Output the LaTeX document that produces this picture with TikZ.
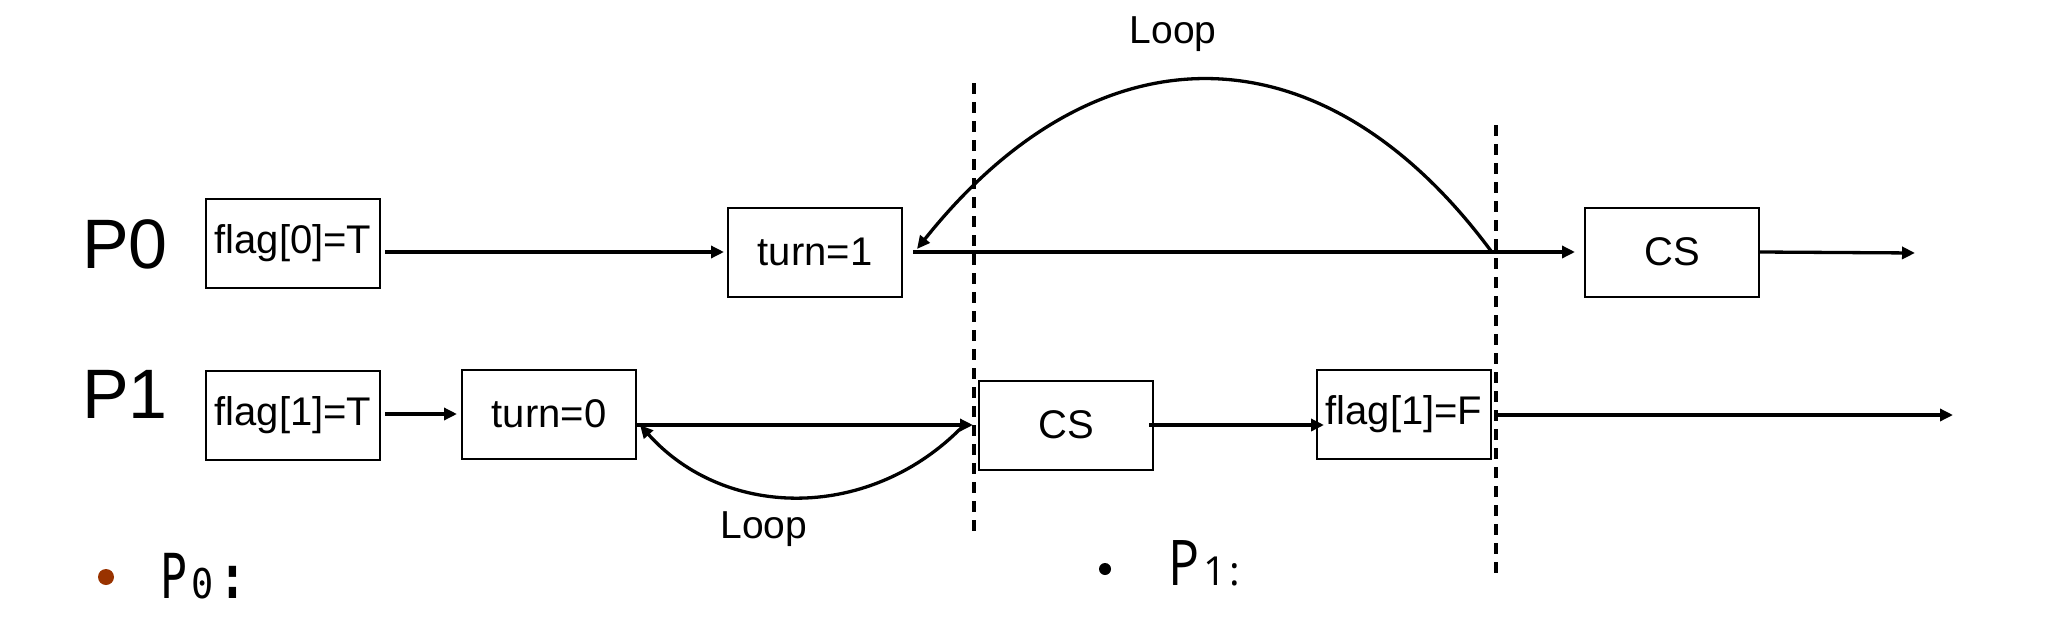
\documentclass[tikz,border=0pt]{standalone}
\usepackage{fontspec}
\setmainfont{Liberation Sans}
\newfontfamily\monoP[FakeStretch=0.72]{DejaVu Sans Mono}
\newfontfamily\monoS[FakeStretch=0.9]{DejaVu Sans Mono}
\newfontfamily\osans[FakeStretch=0.82]{Open Sans}
\newfontfamily\osanssub{Open Sans}
\usetikzlibrary{arrows.meta}
\definecolor{bulletbrown}{RGB}{153,51,0}
\tikzset{
  stepbox/.style={draw, line width=2pt, minimum width=174pt, minimum height=89pt, inner sep=0pt,
    font=\fontsize{40}{42}\selectfont},
  arr/.style={line width=3.3pt, -{Triangle[length=13pt,width=12pt]}},
  sep/.style={line width=3.5pt, dash pattern=on 11pt off 8pt},
  proc/.style={font=\fontsize{70}{72}\selectfont, anchor=base west, inner sep=0pt},
  looplbl/.style={font=\fontsize{39}{41}\selectfont, anchor=base, inner sep=0pt},
}
\begin{document}
\begin{tikzpicture}[x=1pt,y=-1pt]
\useasboundingbox (0,0) rectangle (2063,618);
\fill[white] (0,0) rectangle (2063,618);

% process labels
\node[proc] (p0) at (82,268) {P0};
\node[proc] (p1) at (82,418) {P1};

% P0 row
\node[stepbox] (f0) at (293,243) {flag[0]=T};
\node[stepbox] (t1) at (815,252) {turn=1};
\node[stepbox] (cs0) at (1672,252) {CS};
\coordinate (end0) at (1915,253);

% P1 row
\node[stepbox] (f1) at (293,415) {flag[1]=T};
\node[stepbox] (t0) at (549,414) {turn=0};
\node[stepbox] (cs1) at (1066,425) {CS};
\node[stepbox] (ff) at (1404,414) {flag[1]=F};
\coordinate (end1) at (1953,415);

% separators
\coordinate (d1a) at (974,83);
\coordinate (d1b) at (974,533);
\coordinate (d2a) at (1496,125);
\coordinate (d2b) at (1496,578);
\draw[sep] (d1a) -- (d1b);
\draw[sep] (d2a) -- (d2b);

% P0 connectors
\draw[arr, shorten <=4pt, shorten >=3pt] (f0.east |- t1.west) -- (t1.west);
\draw[arr, shorten <=10pt, shorten >=9pt] (t1.east) -- (cs0.west);
\draw[arr] (cs0.east) -- (end0);
\coordinate (lp0) at (1491,251);
\coordinate (ret0) at (917,249);
\draw[arr] (lp0) .. controls (1322,23) and (1097,23) .. (ret0);
\node[looplbl] (loop0) at (1173,44) {Loop};

% P1 connectors
\draw[arr, shorten <=4pt, shorten >=4pt] (f1.east |- t0.west) -- (t0.west);
\draw[arr, shorten >=5pt] (t0.east |- cs1.west) -- (cs1.west);
\coordinate (lp1) at (964,425);
\coordinate (ret1) at (640,425);
\draw[arr] (lp1) .. controls (872,521) and (726,521) .. (ret1);
\node[looplbl] (loop1) at (764,538) {Loop};
\draw[arr, shorten <=-5pt, shorten >=-8pt] (cs1.east) -- (ff.west |- cs1.east);
\draw[arr, shorten <=3pt] (ff.east |- end1) -- (end1);

% bottom bullets
\fill[bulletbrown] (106,577) circle (8pt);
\node[anchor=base west, inner sep=0pt] (b0) at (160,598)
  {\monoP\fontsize{62}{64}\selectfont P\hspace{4pt}{\monoS\fontsize{41}{43}\selectfont 0}\hspace{6pt}\textbf{:}};
\fill[black] (1105,569) circle (6pt);
\node[anchor=base west, inner sep=0pt] (b1) at (1168,585)
  {\osans\fontsize{63}{65}\selectfont P\hspace{4pt}{\osanssub\fontsize{40}{42}\selectfont 1\hspace{3pt}:}};
\end{tikzpicture}
\end{document}
